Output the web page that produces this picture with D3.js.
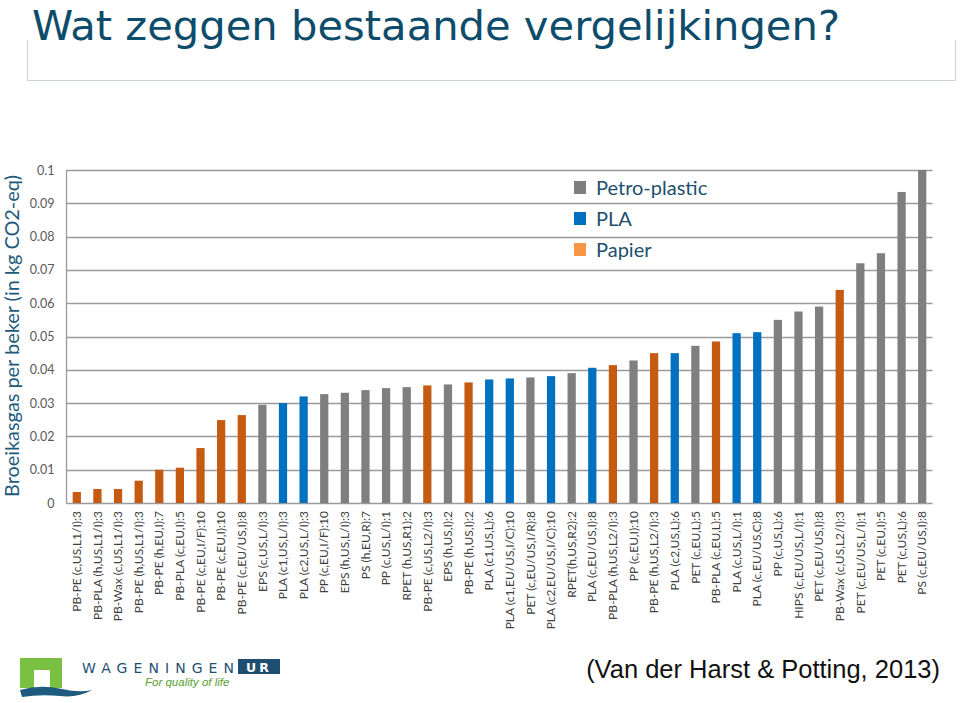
<!DOCTYPE html>
<html><head><meta charset="utf-8">
<script src="https://cdn.jsdelivr.net/npm/d3@7"></script>
<style>body{margin:0;background:#fff;} svg{display:block;}</style>
</head><body>
<svg id="chart" width="960" height="703"></svg>
<script>
const categories = [
 "PB-PE (c,US,L1/I):3","PB-PLA (h,US,L1/I):3","PB-Wax (c,US,L1/I):3","PB-PE (h,US,L1/I):3",
 "PB-PE (h,EU,I):7","PB-PLA (c,EU,I):5","PB-PE (c,EU,I/F):10","PB-PE (c,EU,I):10",
 "PB-PE (c,EU/US,I):8","EPS (c,US,L/I):3","PLA (c1,US,L/I):3","PLA (c2,US,L/I):3",
 "PP (c,EU,I/F):10","EPS (h,US,L/I):3","PS (h,EU,R):7","PP (c,US,L/I):1",
 "RPET (h,US,R1):2","PB-PE (c,US,L2/I):3","EPS (h,US,I):2","PB-PE (h,US,I):2",
 "PLA (c1,US,L):6","PLA (c1,EU/US,I/C):10","PET (c,EU/US,I/R):8","PLA (c2,EU/US,I/C):10",
 "RPET(h,US,R2):2","PLA (c,EU/US,I):8","PB-PLA (h,US,L2/I):3","PP (c,EU,I):10",
 "PB-PE (h,US,L2/I):3","PLA (c2,US,L):6","PET (c,EU,L):5","PB-PLA (c,EU,L):5",
 "PLA (c,US,L/I):1","PLA  (c,EU/US,C):8","PP (c,US,L):6","HIPS (c,EU/US,L/I):1",
 "PET (c,EU/US,I):8","PB-Wax (c,US,L2/I):3","PET (c,EU/US,L/I):1","PET (c,EU,I):5",
 "PET (c,US,L):6","PS (c,EU/US,I):8"
];
const values = [
 0.0033,0.0042,0.0042,0.0067,0.0100,0.0106,0.0165,0.0249,
 0.0264,0.0295,0.0300,0.0320,0.0327,0.0331,0.0339,0.0345,
 0.0348,0.0353,0.0356,0.0362,0.0371,0.0374,0.0377,0.0381,
 0.0390,0.0406,0.0414,0.0428,0.0450,0.0450,0.0472,0.0485,
 0.0510,0.0513,0.0550,0.0575,0.0590,0.0640,0.0720,0.0750,
 0.0934,0.1000
];
const groups = [
 "Papier","Papier","Papier","Papier","Papier","Papier","Papier","Papier",
 "Papier","Petro-plastic","PLA","PLA","Petro-plastic","Petro-plastic","Petro-plastic","Petro-plastic",
 "Petro-plastic","Papier","Petro-plastic","Papier","PLA","PLA","Petro-plastic","PLA",
 "Petro-plastic","PLA","Papier","Petro-plastic","Papier","PLA","Petro-plastic","Papier",
 "PLA","PLA","Petro-plastic","Petro-plastic","Petro-plastic","Papier","Petro-plastic","Petro-plastic",
 "Petro-plastic","Petro-plastic"
];
const yTicks = [0,0.01,0.02,0.03,0.04,0.05,0.06,0.07,0.08,0.09,0.1];
const yTickLabels = ["0","0.01","0.02","0.03","0.04","0.05","0.06","0.07","0.08","0.09","0.1"];
const legendNames = ["Petro-plastic","PLA","Papier"];
const barColors = {"Petro-plastic":"#7f7f7f","PLA":"#0070c0","Papier":"#c55a11"};
const legendColors = {"Petro-plastic":"#7f7f7f","PLA":"#0070c0","Papier":"#f79646"};

const svg = d3.select("#chart");

// Title + box
svg.append("path").attr("d","M27.5,40 V80.5 H955.5 V40").attr("fill","none").attr("stroke","#c8d2da").attr("stroke-width",1);
svg.append("text").attr("x",32).attr("y",40).attr("font-family","'DejaVu Sans Condensed','DejaVu Sans',sans-serif")
  .attr("font-size",41).attr("fill","#0e4c6b").attr("textLength",808).attr("lengthAdjust","spacingAndGlyphs")
  .text("Wat zeggen bestaande vergelijkingen?");

const x = d3.scaleBand().domain(categories).range([66.5, 932.5]).paddingInner(0.6).paddingOuter(0.3);
const y = d3.scaleLinear().domain([0, 0.1]).range([503, 170]);

// Gridlines
svg.append("g").selectAll("line").data(yTicks).join("line")
  .attr("x1",66.5).attr("x2",932.5).attr("y1",d=>Math.round(y(d))+0.5).attr("y2",d=>Math.round(y(d))+0.5)
  .attr("stroke","#9a9a9a").attr("stroke-width",1.3);
// left axis line
svg.append("line").attr("x1",66.5).attr("x2",66.5).attr("y1",y(0.1)).attr("y2",y(0)+0.5).attr("stroke","#9a9a9a").attr("stroke-width",1.3);

// Y axis labels
const yAxis = d3.axisLeft(y).tickValues(yTicks).tickFormat((d,i)=>yTickLabels[i]).tickSize(0).tickPadding(12);
const gy = svg.append("g").attr("transform","translate(66.5,0)").call(yAxis);
gy.select(".domain").remove();
gy.selectAll("text").attr("font-family","Lato, 'Open Sans', sans-serif").attr("font-size",12.5).attr("fill","#595959");

// Bars
svg.append("g").selectAll("rect").data(values).join("rect")
  .attr("x",(d,i)=>x(categories[i])).attr("width",x.bandwidth())
  .attr("y",d=>y(d)).attr("height",d=>y(0)-y(d))
  .attr("fill",(d,i)=>barColors[groups[i]]);

// X labels
const xAxis = d3.axisBottom(x).tickSize(0).tickPadding(0);
const gx = svg.append("g").attr("transform","translate(0,503)").call(xAxis);
gx.select(".domain").remove();
gx.selectAll("text").attr("font-family","Lato, 'Open Sans', sans-serif").attr("font-size",12).attr("fill","#404040")
  .attr("text-anchor","end").attr("dy","0.35em").attr("transform","translate(0,8) rotate(-90)").attr("x",0).attr("y",0);

// Y title
svg.append("text").attr("transform","translate(19,336) rotate(-90)").attr("text-anchor","middle")
  .attr("font-family","Lato, 'Open Sans', sans-serif").attr("font-size",20).attr("fill","#1d5a7c")
  .attr("textLength",322).attr("lengthAdjust","spacingAndGlyphs")
  .text("Broeikasgas per beker (in kg CO2-eq)");

// Legend
const lg = svg.append("g").selectAll("g").data(legendNames).join("g")
  .attr("transform",(d,i)=>`translate(574,${181+i*31})`);
lg.append("rect").attr("width",12).attr("height",13).attr("fill",d=>legendColors[d]);
lg.append("text").attr("x",22).attr("y",14).attr("font-family","Lato, 'Open Sans', sans-serif").attr("font-size",20)
  .attr("fill","#1d4f6e").text(d=>d);

// Source
svg.append("text").attr("x",940).attr("y",678).attr("text-anchor","end").attr("font-family","'Liberation Sans',Arial,sans-serif")
  .attr("font-size",25.5).attr("fill","#111").text("(Van der Harst & Potting, 2013)");

// Logo
const logo = svg.append("g");
logo.append("path").attr("d","M20,658 H62 V688 H50 V670 H34 V688 H20 Z").attr("fill","#7ac143");
logo.append("path").attr("d","M20,690 Q40,684 62,689 Q80,693 92,690 Q78,698 60,696 Q40,694 22,697 Z").attr("fill","#1e5b7e");
logo.append("text").attr("x",82).attr("y",673).attr("font-family","'DejaVu Sans',sans-serif").attr("font-size",14)
  .attr("textLength",152).attr("lengthAdjust","spacing").attr("fill","#1e4f73").text("WAGENINGEN");
logo.append("rect").attr("x",238).attr("y",659).attr("width",42).attr("height",15).attr("fill","#1e4f73");
logo.append("text").attr("x",259).attr("y",672).attr("text-anchor","middle").attr("font-family","'DejaVu Sans',sans-serif")
  .attr("font-size",12.5).attr("font-weight","bold").attr("letter-spacing","3").attr("fill","#fff").text("UR");
logo.append("text").attr("x",145).attr("y",686).attr("font-family","'Liberation Sans',Arial,sans-serif").attr("font-size",11.5)
  .attr("font-style","italic").attr("fill","#5a9e2f").text("For quality of life");
</script>
</body></html>
